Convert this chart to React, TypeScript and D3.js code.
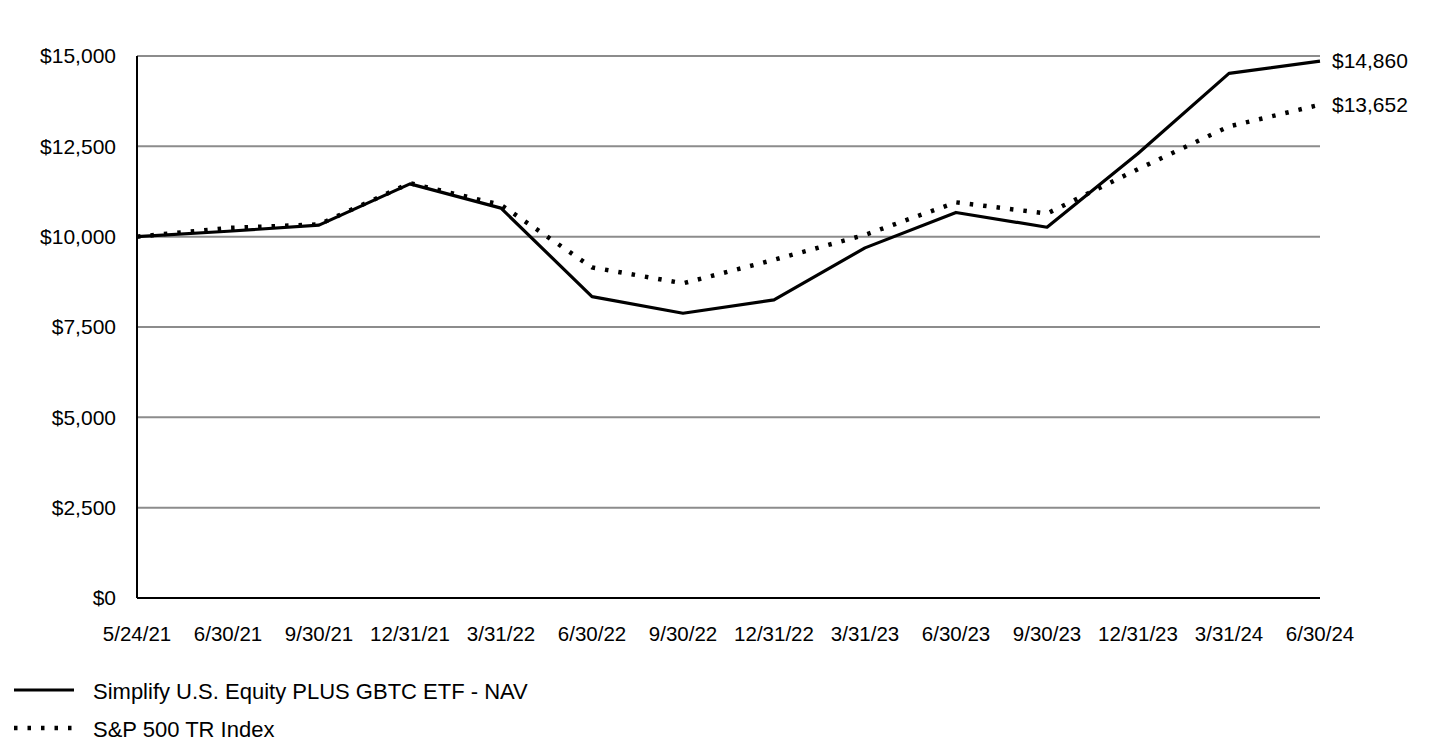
import React from "react";
import * as d3 from "d3";

const categories = ["5/24/21","6/30/21","9/30/21","12/31/21","3/31/22","6/30/22","9/30/22","12/31/22","3/31/23","6/30/23","9/30/23","12/31/23","3/31/24","6/30/24"];
const navValues = [10000,10150,10320,11460,10790,8340,7880,8250,9690,10670,10260,12300,14520,14860];
const spxValues = [10000,10240,10340,11480,10880,9150,8710,9360,10050,10950,10640,11870,13050,13652];
const yTicks = [0,2500,5000,7500,10000,12500,15000];
const seriesNames = ["Simplify U.S. Equity PLUS GBTC ETF - NAV","S&P 500 TR Index"];

const W = 1440, H = 744;
const left = 137, right = 1320, top = 56, bottom = 598;
const FONT = "'Liberation Sans', Arial, sans-serif";

export default function App() {
  const x = d3.scalePoint<string>().domain(categories).range([left, right]);
  const y = d3.scaleLinear().domain([0, 15000]).range([bottom, top]);
  const line = d3.line<number>().x((_, i) => x(categories[i]) as number).y(d => y(d));
  const fmt = (v: number) => "$" + d3.format(",")(v);
  const lastX = x(categories[categories.length - 1]) as number;
  return (
    <svg width={W} height={H} style={{ position: "absolute", left: 0, top: 0, background: "#fff" }} fontFamily={FONT}>
      {yTicks.map(t => (
        <g key={t}>
          {t > 0 && <line x1={left} x2={right} y1={y(t)} y2={y(t)} stroke="#8c8c8c" strokeWidth={2} />}
          <text x={116} y={y(t)} dy="0.35em" textAnchor="end" fontSize={21} fill="#000">{fmt(t)}</text>
        </g>
      ))}
      <line x1={left} x2={left} y1={top} y2={bottom} stroke="#000" strokeWidth={2} />
      <line x1={left} x2={right} y1={bottom} y2={bottom} stroke="#000" strokeWidth={2} />
      {categories.map(c => (
        <text key={c} x={x(c) as number} y={641} textAnchor="middle" fontSize={20.5} fill="#000">{c}</text>
      ))}
      <path d={line(spxValues) || ""} fill="none" stroke="#000" strokeWidth={4.5} strokeDasharray="3.5 10" />
      <path d={line(navValues) || ""} fill="none" stroke="#000" strokeWidth={3.2} strokeLinejoin="round" />
      <text x={lastX + 12} y={y(navValues[navValues.length - 1])} dy="0.35em" fontSize={21} fill="#000">{fmt(navValues[navValues.length - 1])}</text>
      <text x={lastX + 12} y={y(spxValues[spxValues.length - 1])} dy="0.35em" fontSize={21} fill="#000">{fmt(spxValues[spxValues.length - 1])}</text>
      <line x1={14} x2={74} y1={690} y2={690} stroke="#000" strokeWidth={3.2} />
      <text x={93} y={691} dy="0.35em" fontSize={22} fill="#000">{seriesNames[0]}</text>
      <line x1={14} x2={76} y1={728} y2={728} stroke="#000" strokeWidth={4.5} strokeDasharray="3.5 10" />
      <text x={93} y={729} dy="0.35em" fontSize={22} fill="#000">{seriesNames[1]}</text>
    </svg>
  );
}
